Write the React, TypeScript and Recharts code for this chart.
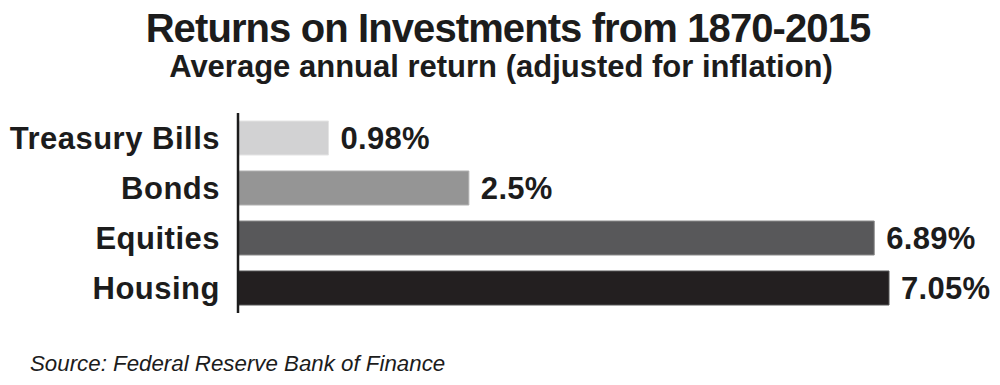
import React from "react";
import { BarChart, Bar, XAxis, YAxis, LabelList, Cell } from "recharts";

const categories = ["Treasury Bills", "Bonds", "Equities", "Housing"];
const returnsPct = [0.98, 2.5, 6.89, 7.05];
const valueLabels = ["0.98%", "2.5%", "6.89%", "7.05%"];
const barColors = ["#d2d2d3", "#959595", "#58585a", "#231f20"];
const barStrokes = ["#e4e4e4", "#b0b0b0", "#8a8a8a", "#555555"];

const data = categories.map((name, i) => ({
  name,
  value: returnsPct[i],
  label: valueLabels[i],
}));

const FONT = "'Liberation Sans', Arial, Helvetica, sans-serif";
const TEXT = "#1c1c1c";

export default function App() {
  return (
    <div
      style={{
        position: "absolute",
        left: 0,
        top: 0,
        width: 1000,
        height: 385,
        background: "#fff",
        fontFamily: FONT,
        overflow: "hidden",
      }}
    >
      <div
        style={{
          position: "absolute",
          top: 5,
          left: 8,
          width: 1000,
          textAlign: "center",
          fontWeight: "bold",
          fontSize: 40,
          letterSpacing: -0.9,
          color: TEXT,
          lineHeight: "46px",
          whiteSpace: "nowrap",
        }}
      >
        Returns on Investments from 1870-2015
      </div>
      <div
        style={{
          position: "absolute",
          top: 49,
          left: 1,
          width: 1000,
          textAlign: "center",
          fontWeight: "bold",
          fontSize: 31,
          color: TEXT,
          lineHeight: "36px",
          whiteSpace: "nowrap",
        }}
      >
        Average annual return (adjusted for inflation)
      </div>
      <div style={{ position: "absolute", top: 0, left: 0 }}>
        <BarChart
          width={1000}
          height={385}
          data={data}
          layout="vertical"
          margin={{ top: 113, right: 111, bottom: 72, left: 0 }}
          barCategoryGap={16}
        >
          <XAxis type="number" dataKey="value" domain={[0, 7.05]} hide />
          <YAxis
            type="category"
            dataKey="name"
            width={238}
            tickLine={false}
            tickSize={0}
            tickMargin={18}
            axisLine={{ stroke: "#1c1c1c", strokeWidth: 2.5 }}
            tick={{
              fill: TEXT,
              fontSize: 31,
              fontWeight: "bold",
              fontFamily: FONT,
              letterSpacing: 0.5,
            }}
          />
          <Bar dataKey="value" barSize={34} isAnimationActive={false}>
            {data.map((d, i) => (
              <Cell key={d.name} fill={barColors[i]} stroke={barStrokes[i]} strokeWidth={1} />
            ))}
            <LabelList
              dataKey="label"
              position="right"
              offset={12}
              fill={TEXT}
              fontSize={31}
              fontWeight="bold"
              fontFamily={FONT}
              style={{ letterSpacing: 0.3 }}
            />
          </Bar>
        </BarChart>
      </div>
      <div
        style={{
          position: "absolute",
          top: 351,
          left: 30,
          fontStyle: "italic",
          fontSize: 22.3,
          color: TEXT,
          lineHeight: "26px",
          whiteSpace: "nowrap",
        }}
      >
        Source: Federal Reserve Bank of Finance
      </div>
    </div>
  );
}
